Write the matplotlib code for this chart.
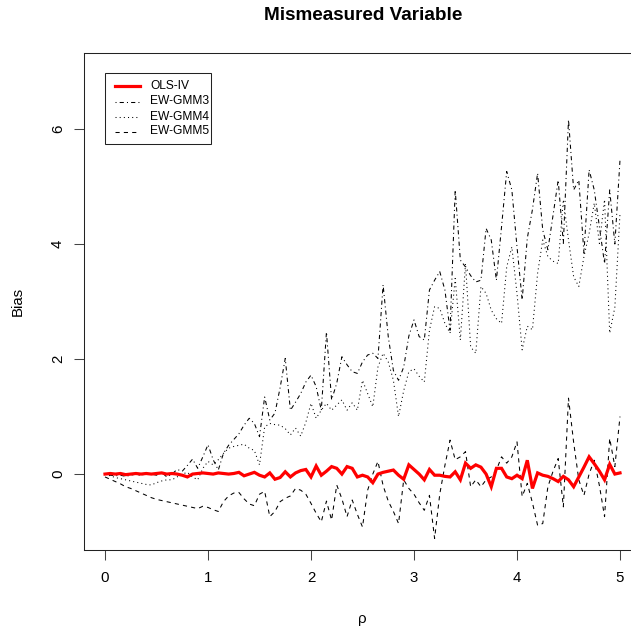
import numpy as np
import matplotlib
matplotlib.use("Agg")
import matplotlib.pyplot as plt
from matplotlib.lines import Line2D
from matplotlib.patches import Rectangle

plt.rcParams['font.family'] = ['Liberation Sans', 'DejaVu Sans']

rho = [round(0.05 * k, 2) for k in range(101)]

ols_iv = [0.00, 0.01, 0.00, 0.01, -0.01, 0.00, 0.01, 0.00, 0.01, 0.00,
          0.01, 0.02, 0.00, 0.01, 0.00, -0.02, -0.05, 0.00, 0.01, 0.02,
          0.01, 0.00, 0.02, 0.01, 0.00, 0.01, 0.03, -0.03, 0.00, 0.03,
          -0.02, -0.05, 0.02, -0.09, -0.06, 0.04, -0.05, 0.02, 0.06, 0.08,
          -0.05, 0.14, -0.02, 0.05, 0.13, 0.10, 0.00, 0.13, 0.10, -0.05,
          -0.02, -0.05, -0.15, 0.00, 0.03, 0.05, 0.07, -0.02, -0.09, 0.16,
          0.08, 0.00, -0.10, 0.08, -0.02, -0.02, -0.04, -0.05, 0.04, -0.10,
          0.19, 0.10, 0.16, 0.12, 0.00, -0.22, 0.10, 0.10, -0.05, -0.08,
          -0.02, -0.08, 0.24, -0.25, 0.02, -0.02, -0.04, -0.08, -0.13, -0.04,
          -0.10, -0.22, -0.05, 0.12, 0.30, 0.18, 0.05, -0.10, 0.17, 0.00,
          0.02]

ew_gmm3 = [0.00, -0.02, -0.03, -0.02, -0.04, -0.02, 0.00, -0.03, 0.02, 0.00,
           -0.02, 0.03, -0.05, 0.00, 0.08, 0.05, 0.15, 0.26, 0.10, 0.30,
           0.51, 0.25, 0.07, 0.36, 0.50, 0.60, 0.70, 0.85, 0.97, 0.88,
           0.65, 1.34, 0.94, 1.06, 1.50, 2.01, 1.11, 1.25, 1.40, 1.60,
           1.72, 1.52, 1.11, 2.47, 1.29, 1.58, 2.04, 1.90, 1.78, 1.75,
           1.95, 2.07, 2.10, 2.01, 3.29, 2.39, 1.80, 1.63, 1.86, 2.40,
           2.68, 2.39, 2.33, 3.20, 3.37, 3.52, 3.20, 2.50, 4.94, 3.72,
           3.60, 3.45, 3.34, 3.37, 4.27, 4.07, 3.37, 4.30, 5.26, 4.94,
           3.95, 3.03, 4.10, 4.60, 5.23, 4.24, 3.90, 4.50, 5.11, 4.01,
           6.16, 4.94, 5.11, 3.84, 5.29, 4.94, 4.30, 3.66, 4.94, 4.00,
           5.46]

ew_gmm4 = [0.00, -0.03, -0.06, -0.08, -0.10, -0.12, -0.14, -0.16, -0.18, -0.19,
           -0.15, -0.12, -0.10, -0.10, -0.05, 0.00, 0.03, -0.05, -0.10, 0.10,
           0.22, 0.16, 0.25, 0.36, 0.45, 0.48, 0.50, 0.52, 0.45, 0.41,
           0.16, 0.82, 0.88, 0.86, 0.85, 0.79, 0.68, 0.80, 0.66, 0.90,
           1.23, 0.97, 1.11, 1.23, 1.11, 1.20, 1.29, 1.11, 1.24, 1.11,
           1.63, 1.40, 1.17, 1.86, 2.10, 1.95, 1.63, 1.00, 1.45, 1.78,
           1.83, 1.70, 1.60, 2.50, 2.91, 2.88, 2.62, 2.45, 3.40, 2.33,
           3.66, 2.21, 2.10, 3.26, 3.14, 2.85, 2.70, 2.62, 3.60, 3.95,
           3.14, 2.16, 2.57, 2.51, 3.49, 4.07, 3.78, 3.70, 3.66, 4.77,
           4.07, 3.43, 3.26, 3.78, 4.18, 4.71, 4.01, 4.77, 2.45, 2.90,
           4.53]

ew_gmm5 = [-0.05, -0.09, -0.13, -0.17, -0.22, -0.25, -0.29, -0.33, -0.37, -0.41,
           -0.44, -0.46, -0.48, -0.50, -0.52, -0.54, -0.56, -0.58, -0.60, -0.56,
           -0.58, -0.62, -0.65, -0.48, -0.38, -0.33, -0.32, -0.43, -0.52, -0.55,
           -0.35, -0.30, -0.74, -0.65, -0.48, -0.42, -0.38, -0.25, -0.28, -0.35,
           -0.51, -0.68, -0.83, -0.47, -0.80, -0.19, -0.43, -0.74, -0.45, -0.70,
           -0.92, -0.28, 0.00, 0.22, -0.20, -0.47, -0.65, -0.86, -0.10, -0.25,
           -0.35, -0.50, -0.63, -0.37, -1.12, -0.35, 0.15, 0.59, 0.25, 0.30,
           0.39, -0.22, -0.10, -0.22, -0.10, -0.05, 0.07, 0.30, 0.19, 0.30,
           0.56, -0.39, -0.16, -0.50, -0.89, -0.86, -0.22, 0.05, 0.27, -0.57,
           1.32, 0.55, -0.10, -0.37, 0.00, 0.24, -0.20, -0.74, 0.62, 0.13,
           1.00]

labels = ["OLS-IV", "EW-GMM3", "EW-GMM4", "EW-GMM5"]
xticks = [0, 1, 2, 3, 4, 5]
yticks = [0, 2, 4, 6]

W, H = 631, 630
fig = plt.figure(figsize=(W / 100, H / 100), dpi=100)
L, R, T, B = 84.4, 640.6, 53.0, 550.0
ax = fig.add_axes([L / W, 1 - B / H, (R - L) / W, (B - T) / H])

lw = 0.75
styles = [
    dict(color='red', lw=2.3, ls='-'),
    dict(color='black', lw=lw, ls=(0, (1, 3, 4, 3))),
    dict(color='black', lw=lw, ls=(0, (1, 3))),
    dict(color='black', lw=lw, ls=(0, (4, 4))),
]
series = [ols_iv, ew_gmm3, ew_gmm4, ew_gmm5]
order = [1, 2, 3, 0]
for k in order:
    ax.plot(rho, series[k], **styles[k], solid_joinstyle='miter', dash_capstyle='butt')

ax.set_xlim(-0.2, 5.2)
ax.set_ylim(-1.32, 7.32)
for s in ax.spines.values():
    s.set_linewidth(0.75)
    s.set_color('#222222')

fs = 10.8
lfs = 8.64
ax.set_xticks(xticks)
ax.set_xticklabels([str(v) for v in xticks])
ax.set_yticks(yticks)
ax.set_yticklabels([str(v) for v in yticks], rotation=90, va='center')
ax.tick_params(axis='both', length=7.2, width=0.75, color='#444444', labelsize=fs)
ax.tick_params(axis='x', pad=7.6)
ax.tick_params(axis='y', pad=6.8)

ax.set_xlabel("ρ", fontsize=fs)
ax.xaxis.set_label_coords(0.5, (B - 619) / (B - T))
ax.xaxis.label.set_va('center')
ax.set_ylabel("Bias", fontsize=fs)
ax.yaxis.set_label_coords((18 - L) / (R - L), 0.5)
ax.yaxis.label.set_va('center')

fig.text(363 / W, 1 - 16 / H, "Mismeasured Variable", fontsize=13.6,
         fontweight='bold', ha='center', va='center')

# legend (manual, pixel layout matching reference)
def fx(px):
    return px / W

def fy(py):
    return 1 - py / H

fig.add_artist(Rectangle((fx(105), fy(143.5)), fx(211) - fx(105), fy(72.5) - fy(143.5),
                         transform=fig.transFigure, fill=False, lw=0.75, ec='#222222'))
rows = [86, 101.5, 116.5, 131.5]
for k, yy in enumerate(rows):
    st = styles[k]
    fig.add_artist(Line2D([fx(115), fx(140)], [fy(yy), fy(yy)], transform=fig.transFigure,
                          color=st['color'], lw=st['lw'], ls=st['ls'],
                          dash_capstyle='butt'))
    fig.text(fx(150), fy(yy), labels[k], fontsize=lfs, ha='left', va='center')

fig.savefig("out.png", dpi=100)
